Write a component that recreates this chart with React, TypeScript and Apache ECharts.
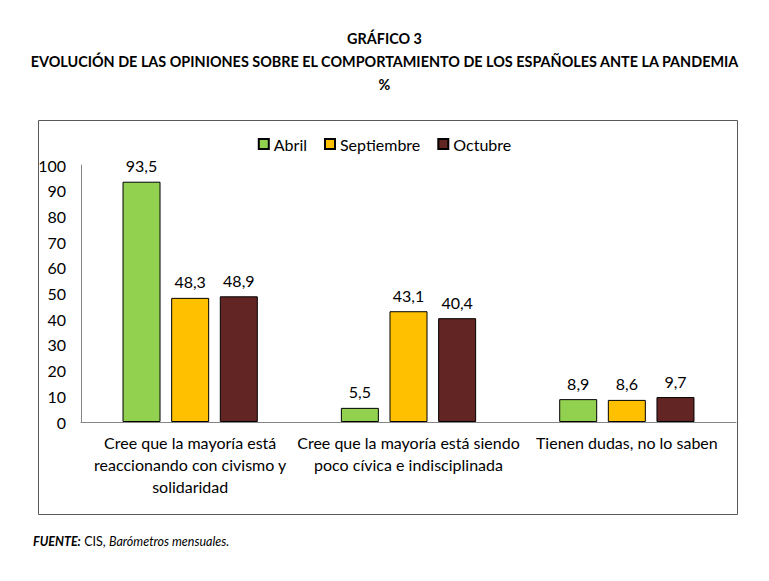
import { useEffect, useRef } from 'react';
import * as echarts from 'echarts';

const categories = [
  'Cree que la mayoría está\nreaccionando con civismo y\nsolidaridad',
  'Cree que la mayoría está siendo\npoco cívica e indisciplinada',
  'Tienen dudas, no lo saben',
];
const abril = [93.5, 5.5, 8.9];
const septiembre = [48.3, 43.1, 8.6];
const octubre = [48.9, 40.4, 9.7];

const FONT = 'Lato';

const App = () => {
  const chartRef = useRef<HTMLDivElement>(null);

  useEffect(() => {
    if (!chartRef.current) return;
    const chart = echarts.init(chartRef.current, null as any, { renderer: 'svg' });

    const barSeries = (name: string, data: number[], color: string) => ({
      name,
      type: 'bar' as const,
      data,
      barWidth: 38,
      barGap: '28%',
      itemStyle: { color, borderColor: '#000', borderWidth: 1 },
      label: {
        show: true,
        position: 'top' as const,
        distance: 8,
        fontFamily: FONT,
        fontSize: 16,
        color: '#000',
        formatter: (p: any) => String(p.value).replace('.', ','),
      },
    });

    chart.setOption({
      animation: false,
      title: {
        text: 'GRÁFICO 3\nEVOLUCIÓN DE LAS OPINIONES SOBRE EL COMPORTAMIENTO DE LOS ESPAÑOLES ANTE LA PANDEMIA\n%',
        left: 'center',
        top: 22,
        textStyle: {
          fontFamily: FONT,
          fontSize: 14.4,
          fontWeight: 'bold',
          color: '#000',
          lineHeight: 23,
        },
      },
      legend: {
        top: 131,
        left: 'center',
        itemWidth: 10,
        itemHeight: 10,
        itemGap: 17,
        icon: 'rect',
        textStyle: { fontFamily: FONT, fontSize: 16, color: '#000' },
        data: ['Abril', 'Septiembre', 'Octubre'],
      },
      grid: { left: 81, right: 33, top: 165, bottom: 159, containLabel: false },
      xAxis: {
        type: 'category',
        data: categories,
        axisLine: { lineStyle: { color: '#868686', width: 1 } },
        axisTick: { show: false },
        axisLabel: {
          interval: 0,
          fontFamily: FONT,
          fontSize: 16,
          color: '#000',
          lineHeight: 22,
          margin: 9,
        },
      },
      yAxis: {
        type: 'value',
        min: 0,
        max: 100,
        interval: 10,
        axisLine: { show: true, lineStyle: { color: '#868686', width: 1 } },
        axisTick: { show: false },
        splitLine: { show: false },
        axisLabel: { fontFamily: FONT, fontSize: 16, color: '#000', margin: 15 },
      },
      graphic: [
        {
          type: 'rect',
          shape: { x: 38.5, y: 120.5, width: 699, height: 394 },
          style: { fill: 'none', stroke: '#595959', lineWidth: 1 },
          silent: true,
          z: -1,
        },
        {
          type: 'text',
          left: 33,
          top: 535,
          style: {
            text: '{b|FUENTE:} {n|CIS,} {i|Barómetros mensuales.}',
            rich: {
              b: { fontFamily: FONT, fontSize: 12.5, fontWeight: 'bold', fontStyle: 'italic', fill: '#000' },
              n: { fontFamily: FONT, fontSize: 12.5, fill: '#000' },
              i: { fontFamily: FONT, fontSize: 12.5, fontStyle: 'italic', fill: '#000' },
            },
          },
        },
      ],
      series: [
        barSeries('Abril', abril, '#92D050'),
        barSeries('Septiembre', septiembre, '#FFC000'),
        barSeries('Octubre', octubre, '#632523'),
      ],
    });

    return () => chart.dispose();
  }, []);

  return (
    <div
      ref={chartRef}
      style={{ position: 'fixed', left: 0, top: 0, width: 769, height: 581, background: '#fff' }}
    />
  );
};

export default App;
